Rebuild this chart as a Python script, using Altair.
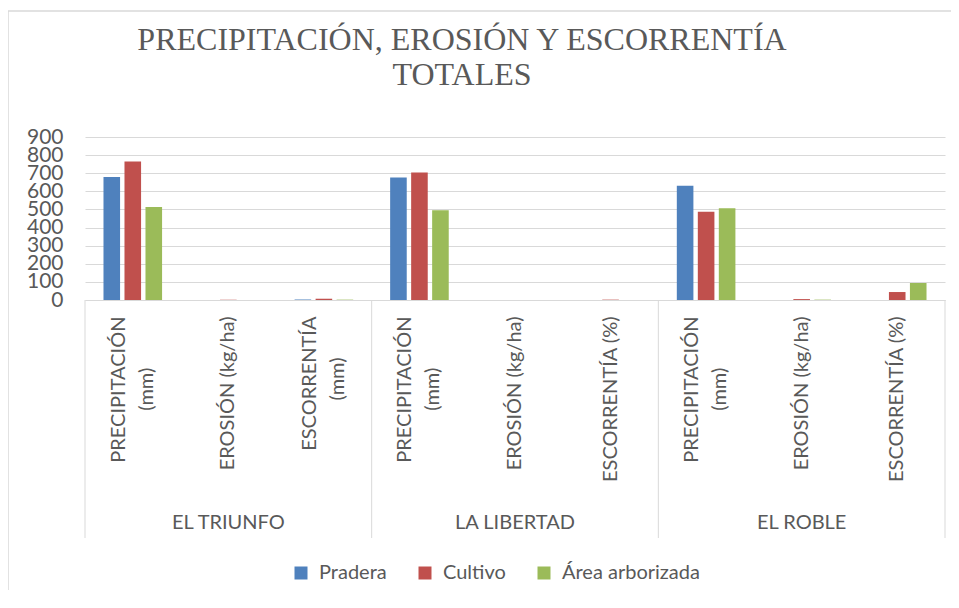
import altair as alt
import pandas as pd

# ---- data ----
groups = ["EL TRIUNFO", "LA LIBERTAD", "EL ROBLE"]
variables = [
    [["PRECIPITACIÓN", "(mm)"], ["EROSIÓN (kg/ha)"], ["ESCORRENTÍA", "(mm)"]],
    [["PRECIPITACIÓN", "(mm)"], ["EROSIÓN (kg/ha)"], ["ESCORRENTÍA (%)"]],
    [["PRECIPITACIÓN", "(mm)"], ["EROSIÓN (kg/ha)"], ["ESCORRENTÍA (%)"]],
]
series = ["Pradera", "Cultivo", "Área arborizada"]
pradera = [679, 0, 3, 677, 0, 0, 631, 0, 0]
cultivo = [765, 2, 7, 704, 0, 2, 487, 5, 44]
area = [513, 0, 2, 496, 0, 0, 507, 2, 94]
y_ticks = [0, 100, 200, 300, 400, 500, 600, 700, 800, 900]
title_lines = ["PRECIPITACIÓN, EROSIÓN Y ESCORRENTÍA", "TOTALES"]

colors = ["#4F81BD", "#C0504D", "#9BBB59"]
GRAY = "#595959"
LINE = "#D9D9D9"
FONT = "Lato"
NBSP = "\u00a0"
ZWSP = "\u200b"

cats = [g + "#" + "|".join(v) for g, vs in zip(groups, variables) for v in vs]
rows = []
for s, vals in zip(series, [pradera, cultivo, area]):
    for c, v in zip(cats, vals):
        rows.append({"cat": c, "series": s, "value": v})
df = pd.DataFrame(rows)

first_df = pd.DataFrame({"cat": [cats[i * 3] for i in range(3)]})
last_df = pd.DataFrame({"cat": [cats[-1]]})
grp_df = pd.DataFrame({"cat": [cats[i * 3 + 1] for i in range(3)], "group": groups})
frame_df = pd.DataFrame({"a": [0]})

W, H = 860, 163

# wrapped labels: second line centred under the first (pad with no-break spaces)
L = "split(split(datum.label, '#')[1], '|')"
label_expr = (
    f"length({L}) > 1 ? "
    f"[{L}[0], pad({L}[1], length({L}[1]) + "
    f"round((length({L}[0]) - length({L}[1])) * 1.15), '{NBSP}') + '{ZWSP}'] "
    f": {L}[0]"
)
multi_test = "indexof(datum.value, '|') >= 0"

xscale = alt.Scale(domain=cats, paddingInner=0, paddingOuter=0)

bars = alt.Chart(df).mark_bar().encode(
    x=alt.X(
        "cat:N",
        scale=xscale,
        title=None,
        axis=alt.Axis(
            labelExpr=label_expr,
            labelAngle=-90,
            labelAlign="right",
            labelBaseline={
                "condition": {"test": multi_test, "value": "line-bottom"},
                "value": "middle",
            },
            labelFont=FONT,
            labelFontSize=20,
            labelColor=GRAY,
            labelLineHeight=28,
            labelPadding=16,
            labelLimit=400,
            labelOverlap=False,
            ticks=False,
            domainColor=LINE,
            domainWidth=1,
            grid=False,
        ),
    ),
    xOffset=alt.XOffset(
        "series:N",
        scale=alt.Scale(domain=series, paddingInner=0.21, paddingOuter=0.88),
    ),
    y=alt.Y(
        "value:Q",
        scale=alt.Scale(domain=[0, 900], nice=False),
        title=None,
        axis=alt.Axis(
            values=y_ticks,
            labelFont=FONT,
            labelFontSize=21,
            labelColor=GRAY,
            labelPadding=22,
            labelOverlap=False,
            ticks=False,
            domain=False,
            gridColor=LINE,
            gridWidth=1,
        ),
    ),
    color=alt.Color(
        "series:N",
        scale=alt.Scale(domain=series, range=colors),
        legend=alt.Legend(
            title=None,
            orient="none",
            direction="horizontal",
            legendX=206,
            legendY=426,
            padding=0,
            symbolType="square",
            symbolSize=169,
            symbolStrokeWidth=0,
            labelFont=FONT,
            labelFontSize=20,
            labelColor=GRAY,
            labelOffset=8,
            columnPadding=28,
        ),
    ),
)

seps = alt.Chart(first_df).mark_rule(color=LINE, strokeWidth=1).encode(
    x=alt.X("cat:N", bandPosition=0, title=None),
    y=alt.value(H),
    y2=alt.value(401),
)
end_sep = alt.Chart(last_df).mark_rule(color=LINE, strokeWidth=1).encode(
    x=alt.X("cat:N", bandPosition=1, title=None),
    y=alt.value(H),
    y2=alt.value(401),
)
grp_text = alt.Chart(grp_df).mark_text(
    font=FONT, fontSize=20, color=GRAY, baseline="middle", align="center"
).encode(
    x=alt.X("cat:N", title=None),
    y=alt.value(386),
    text="group:N",
)
frame = alt.Chart(frame_df).mark_rect(filled=False, stroke=LINE, strokeWidth=1.5).encode(
    x=alt.value(-77), x2=alt.value(900), y=alt.value(-126), y2=alt.value(600)
)

chart = (
    alt.layer(frame, bars, seps, end_sep, grp_text)
    .properties(
        width=W,
        height=H,
        padding={"left": 77, "top": 129, "right": 6, "bottom": 290},
        autosize=alt.AutoSizeParams(type="none"),
        title=alt.TitleParams(
            text=title_lines,
            anchor="middle",
            frame="group",
            dx=-53,
            dy=82,
            font="Liberation Serif",
            fontSize=32,
            fontWeight="normal",
            color=GRAY,
            lineHeight=35,
            offset=0,
        ),
    )
    .configure_view(strokeWidth=0)
)

chart.save("out.html", embed_options={"renderer": "svg", "actions": False})
